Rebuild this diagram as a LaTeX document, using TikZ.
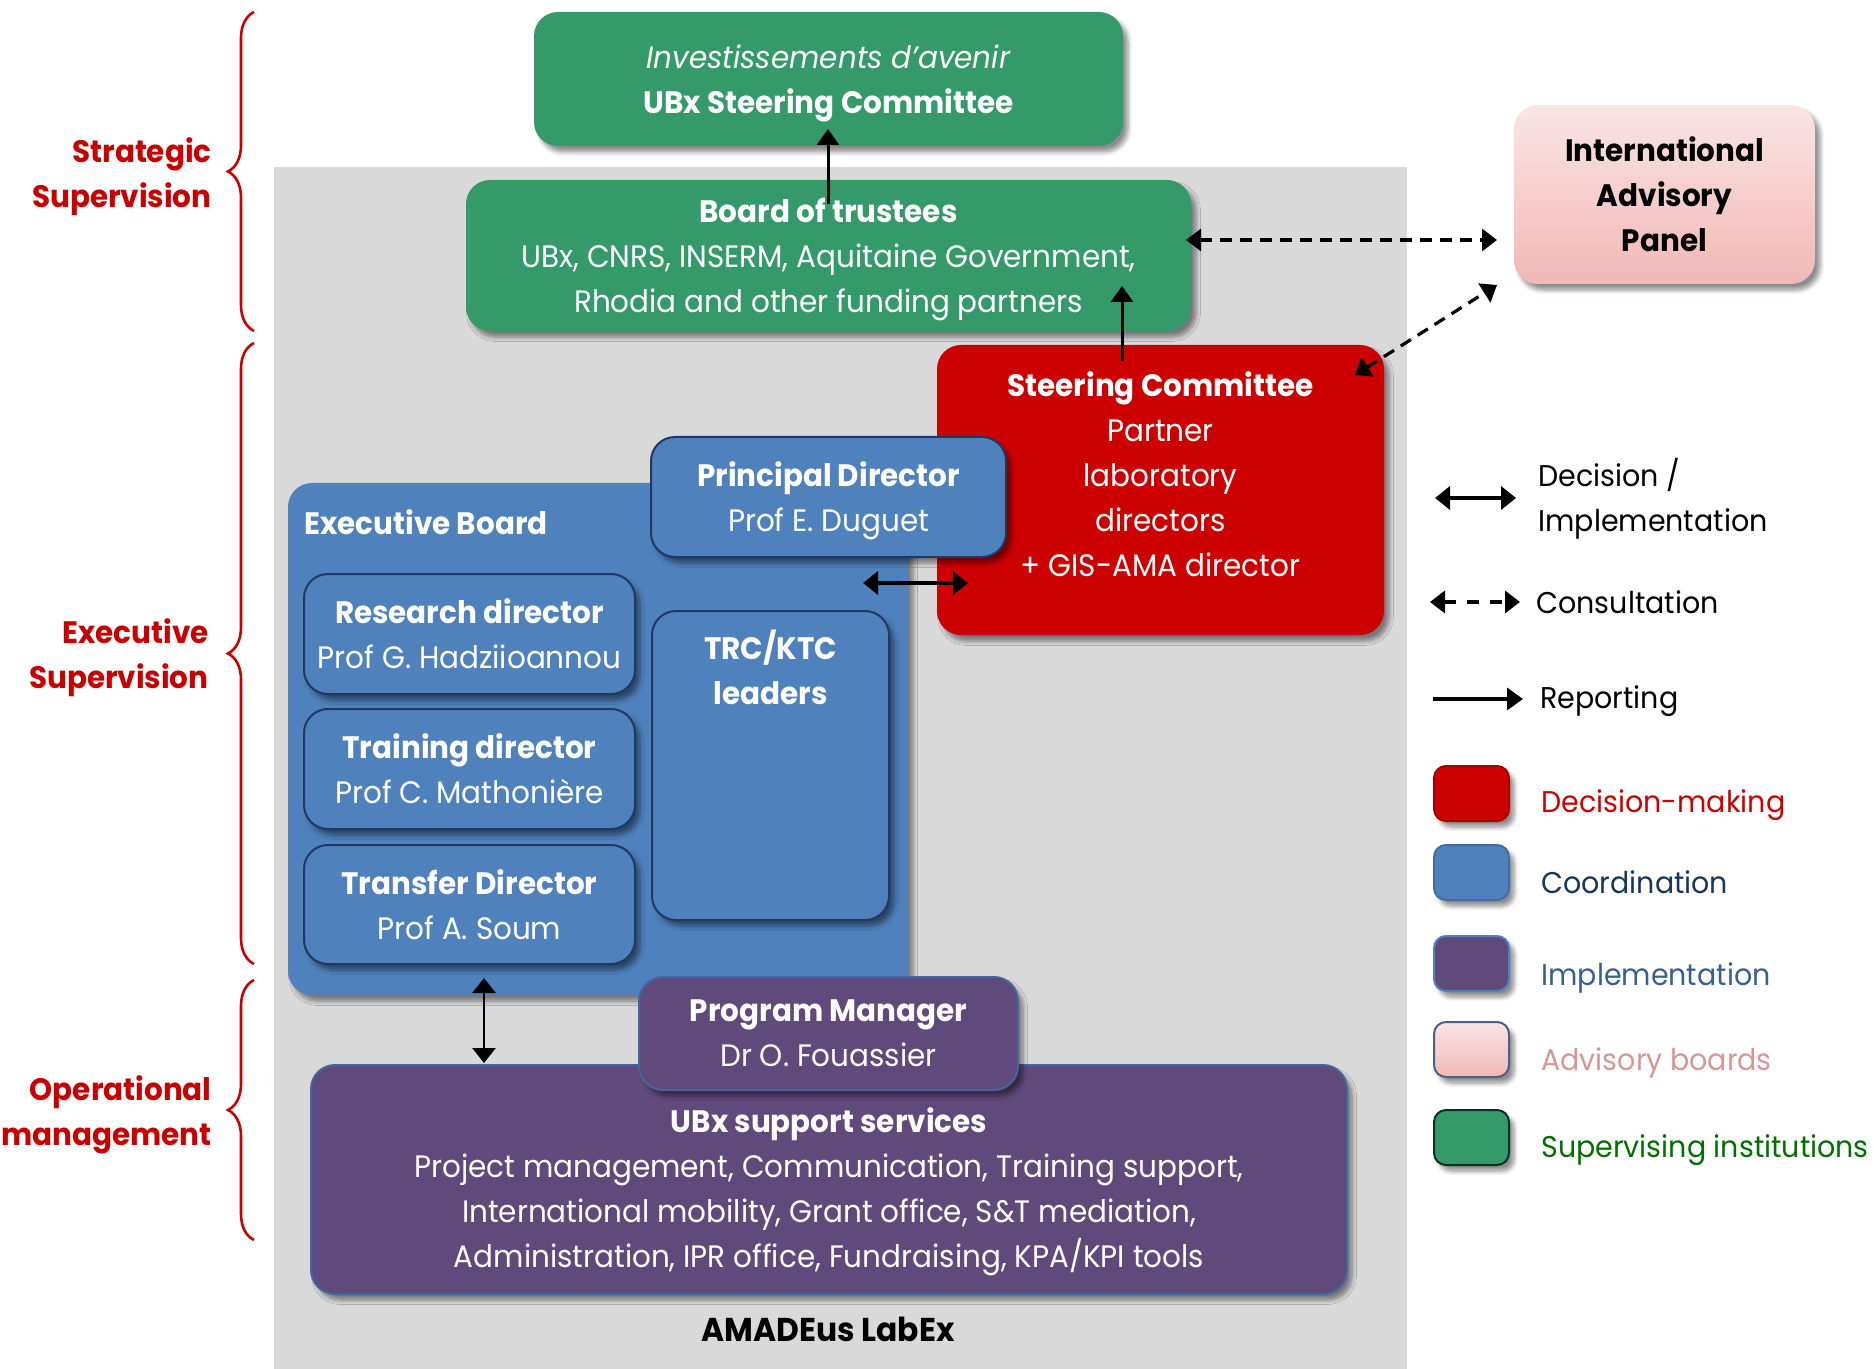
\documentclass[tikz,border=0pt]{standalone}
\usepackage{fontspec}
\setmainfont{Poppins}[FakeStretch=0.95]
\usetikzlibrary{arrows.meta,decorations.pathreplacing,shadows.blur}

\definecolor{cgreen}{RGB}{52,154,106}
\definecolor{cred}{RGB}{204,0,0}
\definecolor{cblue}{RGB}{79,129,189}
\definecolor{cpurple}{RGB}{96,74,123}
\definecolor{cgray}{RGB}{217,217,217}
\definecolor{pinktop}{RGB}{249,229,229}
\definecolor{pinkbot}{RGB}{241,184,182}
\definecolor{bracered}{RGB}{200,0,0}
\definecolor{darkblue}{RGB}{31,56,100}
\definecolor{pmborder}{RGB}{70,100,160}
\definecolor{navy}{RGB}{23,55,94}
\definecolor{implblue}{RGB}{54,96,146}
\definecolor{advpink}{RGB}{217,149,148}
\definecolor{supgreen}{RGB}{0,112,0}

\tikzset{
  shad/.style={blur shadow={shadow xshift=2.5pt, shadow yshift=-3pt, shadow blur steps=6, shadow opacity=45}},
  box/.style={rounded corners=12pt, inner sep=0pt, align=center, text=white, text depth=-2.5pt, shad},
  innerbox/.style={box, fill=cblue, draw=darkblue, line width=1pt},
  plaintext/.style={inner sep=0pt, align=center, text=white},
  bracelab/.style={inner sep=0pt, align=right, text=bracered, font=\fontsize{15.5}{22.5}\selectfont\bfseries},
  bracedeco/.style={draw=bracered, line width=1.3pt, decorate, decoration={brace, amplitude=13pt}},
  legtext/.style={inner sep=0pt, align=left, anchor=west, font=\fontsize{15}{22.5}\selectfont},
  legbox/.style={rounded corners=6pt, minimum width=37.5pt, minimum height=27.5pt, inner sep=0pt, line width=1pt, shad},
  solidarrow/.style={line width=1.5pt, -{Triangle[length=8pt,width=11pt]}},
  dblarrow/.style={line width=1.6pt, {Triangle[length=7.5pt,width=11.5pt]}-{Triangle[length=7.5pt,width=11.5pt]}},
  dasharrow/.style={line width=1.6pt, dash pattern=on 6pt off 4pt, {Triangle[length=7.5pt,width=11pt]}-{Triangle[length=7.5pt,width=11pt]}},
}

\begin{document}
\begin{tikzpicture}[x=0.5pt, y=-0.5pt, every node/.style={font=\fontsize{15.5}{22.5}\selectfont}]
\useasboundingbox (0,0) rectangle (1874,1369);

% grey LabEx background
\fill[cgray] (274,167) rectangle (1407,1369);

% braces and their labels
\draw[bracedeco] (254,331) -- (254,12);
\draw[bracedeco] (254,964) -- (254,343);
\draw[bracedeco] (254,1240) -- (254,980);
\node[bracelab, anchor=east] (lstrat) at (212,176.5) {Strategic\\Supervision};
\node[bracelab, anchor=east] (lexec) at (209,658) {Executive\\Supervision};
\node[bracelab, anchor=east] (lop) at (212,1114.5) {Operational\\management};

% green supervising boxes
\node[box, fill=cgreen, minimum width=294.5pt, minimum height=67pt] (top) at (828.5,79)
  {\textit{Investissements d’avenir}\\\textbf{UBx Steering Committee}};
\node[box, fill=cgreen, minimum width=362.5pt, minimum height=75.5pt] (board) at (828.5,255.5)
  {\textbf{Board of trustees}\\UBx, CNRS, INSERM, Aquitaine Government,\\Rhodia and other funding partners};

% advisory panel
\node[box, top color=pinktop, bottom color=pinkbot, text=black, minimum width=150.5pt, minimum height=89.5pt, font=\fontsize{15.5}{22.5}\selectfont\bfseries] (iap) at (1664.5,194.5)
  {International\\Advisory\\Panel};

% steering committee
\node[box, fill=cred, minimum width=223.5pt, minimum height=145pt] (steer) at (1160.5,490) {};
\node[plaintext] (steertxt) at (1160.5,474)
  {\textbf{Steering Committee}\\Partner\\laboratory\\directors\\+ GIS-AMA director};

% executive board
\node[box, fill=cblue, minimum width=310pt, minimum height=256pt] (exec) at (598,739) {};
\node[plaintext, anchor=west, font=\fontsize{15.5}{22.5}\selectfont\bfseries] (exectxt) at (304,522) {Executive Board};

\node[innerbox, minimum width=165.5pt, minimum height=60pt] (rd) at (469.5,634)
  {\textbf{Research director}\\Prof G. Hadziioannou};
\node[innerbox, minimum width=165.5pt, minimum height=60pt] (td) at (469.5,769)
  {\textbf{Training director}\\Prof C. Mathonière};
\node[innerbox, minimum width=165.5pt, minimum height=59.5pt] (trd) at (469.5,904.5)
  {\textbf{Transfer Director}\\Prof A. Soum};
\node[innerbox, minimum width=118.5pt, minimum height=154.5pt] (trc) at (770.5,765.5) {};
\node[plaintext, font=\fontsize{15.5}{22.5}\selectfont\bfseries] (trctxt) at (770.5,667) {TRC/KTC\\leaders};
\node[innerbox, minimum width=177.5pt, minimum height=60pt] (pd) at (828.5,497)
  {\textbf{Principal Director}\\Prof E. Duguet};

% implementation
\node[box, fill=cpurple, draw=pmborder, line width=1pt, minimum width=518pt, minimum height=114.5pt] (ubx) at (829,1179.5) {};
\node[plaintext] (ubxtxt) at (829,1192)
  {\textbf{UBx support services}\\Project management, Communication, Training support,\\International mobility, Grant office, S\&T mediation,\\Administration, IPR office, Fundraising, KPA/KPI tools};
\node[box, fill=cpurple, draw=pmborder, line width=1pt, minimum width=189.5pt, minimum height=56.5pt] (pm) at (828.5,1033.5)
  {\textbf{Program Manager}\\Dr O. Fouassier};

\node[inner sep=0pt, font=\fontsize{16.5}{22}\selectfont\bfseries] (labex) at (828,1329) {AMADEus LabEx};

% connector end points
\coordinate (bt-out) at (828,204);
\coordinate (top-in) at (828,129);
\coordinate (sc-out) at (1122,361);
\coordinate (bt-in) at (1122,286);
\coordinate (bt-east) at (1186,240);
\coordinate (iap-west) at (1497,240);
\coordinate (sc-ne) at (1355,375);
\coordinate (iap-sw) at (1497,285);
\coordinate (eb-east) at (863,583);
\coordinate (sc-west) at (968,583);
\coordinate (eb-south) at (484,978);
\coordinate (ubx-north) at (484,1063);

\draw[solidarrow] (bt-out) -- (top-in);
\draw[solidarrow] (sc-out) -- (bt-in);
\draw[dasharrow] (bt-east) -- (iap-west);
\draw[dasharrow] (sc-ne) -- (iap-sw);
\draw[dblarrow] (eb-east) -- (sc-west);
\draw[dblarrow, line width=1.4pt] (eb-south) -- (ubx-north);

% legend: connectors
\coordinate (l1a) at (1435,498);
\coordinate (l1b) at (1516,498);
\coordinate (l2a) at (1430,602);
\coordinate (l2b) at (1520,602);
\coordinate (l3a) at (1433,699);
\coordinate (l3b) at (1523,699);
\draw[dblarrow, line width=1.8pt] (l1a) -- (l1b);
\draw[dasharrow, line width=1.8pt, dash pattern=on 6pt off 5.5pt] (l2a) -- (l2b);
\draw[solidarrow, line width=1.8pt] (l3a) -- (l3b);
\node[legtext] (lg1) at (1538,499) {Decision /\\Implementation};
\node[legtext] (lg2) at (1536,602) {Consultation};
\node[legtext] (lg3) at (1540,701) {Reporting};

% legend: colours
\node[legbox, fill=cred, draw=cred!80!black] (sq1) at (1471.5,793.5) {};
\node[legbox, fill=cblue, draw=cblue!85!black] (sq2) at (1471.5,872.5) {};
\node[legbox, fill=cpurple, draw=cblue] (sq3) at (1471.5,963.5) {};
\node[legbox, top color=pinktop, bottom color=pinkbot, draw=darkblue!80] (sq4) at (1471.5,1049.5) {};
\node[legbox, fill=cgreen, draw=black!70!cgreen] (sq5) at (1471.5,1137.5) {};
\node[legtext, text=cred] (lc1) at (1541,805.5) {Decision-making};
\node[legtext, text=navy] (lc2) at (1541,882) {Coordination};
\node[legtext, text=implblue] (lc3) at (1541,977.5) {Implementation};
\node[legtext, text=advpink] (lc4) at (1541,1062.5) {Advisory boards};
\node[legtext, text=supgreen] (lc5) at (1541,1150.5) {Supervising institutions};
\end{tikzpicture}
\end{document}
